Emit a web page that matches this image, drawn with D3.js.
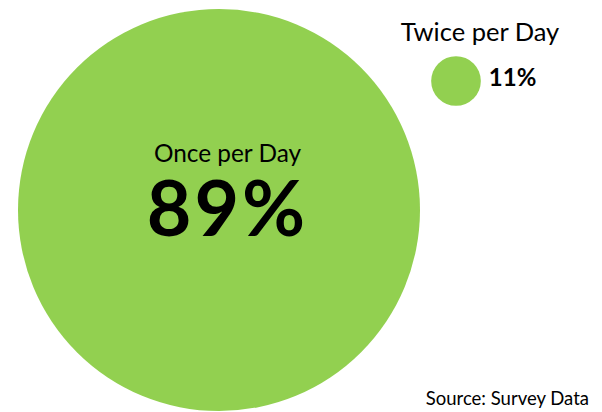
<!DOCTYPE html>
<meta charset="utf-8">
<script src="https://d3js.org/d3.v7.min.js"></script>
<style>
  body { margin: 0; background: #fff; }
  text { font-family: Lato, "Open Sans", sans-serif; fill: #000; }
</style>
<div id="my_dataviz"></div>
<script>

// data
var labels = ["Once per Day", "Twice per Day"];
var values = [89, 11];
var source = "Source: Survey Data";

var width = 602, height = 412;

var svg = d3.select("#my_dataviz")
  .append("svg")
    .attr("width", width)
    .attr("height", height);

// radius grows with the value
var r = d3.scaleLinear()
  .domain([0, 89])
  .range([0, 201]);

// where each bubble sits
var cx = d3.scaleOrdinal().domain(labels).range([219, 456]);
var cy = d3.scaleOrdinal().domain(labels).range([210, 81]);

svg.selectAll("circle")
  .data(values)
  .enter().append("circle")
    .attr("cx", function(d, i) { return cx(labels[i]); })
    .attr("cy", function(d, i) { return cy(labels[i]); })
    .attr("r", function(d) { return r(d); })
    .attr("fill", "#92d050");

// big bubble labels inside
svg.append("text")
  .attr("x", cx(labels[0]) + 8.5)
  .attr("y", cy(labels[0]) - 48)
  .attr("text-anchor", "middle")
  .style("font-size", "24.4px")
  .text(labels[0]);

svg.append("text")
  .attr("x", cx(labels[0]) + 8.5)
  .attr("y", cy(labels[0]) + 26)
  .attr("text-anchor", "middle")
  .style("font-size", "77px")
  .style("font-weight", "bold")
  .style("letter-spacing", "3px")
  .text(values[0] + "%");

// small bubble: title above, value to the right
svg.append("text")
  .attr("x", cx(labels[1]) + 24)
  .attr("y", cy(labels[1]) - 40)
  .attr("text-anchor", "middle")
  .style("font-size", "25.5px")
  .text(labels[1]);

svg.append("text")
  .attr("x", cx(labels[1]) + r(values[1]) + 8)
  .attr("y", cy(labels[1]) + 5)
  .style("font-size", "24px")
  .style("font-weight", "bold")
  .text(values[1] + "%");

svg.append("text")
  .attr("x", 589)
  .attr("y", 405)
  .attr("text-anchor", "end")
  .style("font-size", "18.5px")
  .text(source);

</script>
